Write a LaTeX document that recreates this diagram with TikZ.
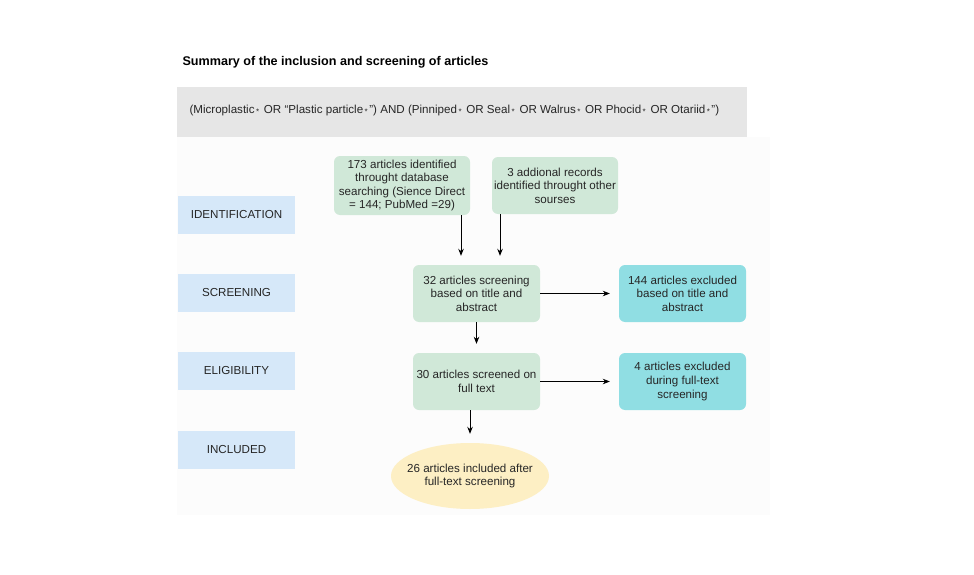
\documentclass[tikz,border=0pt]{standalone}
\usepackage{fontspec}
\setmainfont{Liberation Sans}
\usetikzlibrary{arrows.meta,positioning,shapes.geometric}
\definecolor{stage blue}{RGB}{214,232,249}
\definecolor{record green}{RGB}{208,232,216}
\definecolor{excluded cyan}{RGB}{144,222,227}
\definecolor{included yellow}{RGB}{253,239,196}
\definecolor{query grey}{RGB}{230,230,230}
\definecolor{panel grey}{RGB}{252,252,252}
\tikzset{
    box text/.style={font=\fontsize{11.6}{13.6}\selectfont,text=black!85,align=center},
    stage/.style={box text,fill=stage blue,minimum width=117pt,minimum height=38pt,inner sep=0pt},
    record/.style={box text,fill=record green,rounded corners=6pt,minimum width=127pt,minimum height=57pt,inner sep=1pt},
    excluded/.style={box text,fill=excluded cyan,rounded corners=6pt,minimum width=127pt,minimum height=57pt,inner sep=1pt},
    included/.style={box text,ellipse,fill=included yellow,minimum width=158pt,minimum height=66pt,inner xsep=-12pt,inner ysep=0pt},
    arr/.style={->,>={Stealth[length=7pt,width=5.5pt]},line width=0.9pt,shorten >=9pt},
}
\newcommand{\wc}{\kern1.5pt\raisebox{-.1ex}{\footnotesize*}\kern1.5pt}
\begin{document}
\begin{tikzpicture}[x=1pt,y=-1pt]
    \useasboundingbox[fill=white] (0,0) rectangle (974,575);
    \fill[panel grey] (177,137) rectangle (770,515);
    \node[anchor=west,font=\fontsize{12.6}{14}\selectfont\bfseries] (title) at (179,62) {Summary of the inclusion and screening of articles};
    \fill[query grey] (177,87) rectangle (747,137);
    \node[anchor=west,box text] (query) at (186,111) {(Microplastic\wc{} OR “Plastic particle\wc”) AND (Pinniped\wc{} OR Seal\wc{} OR Walrus\wc{} OR Phocid\wc{} OR Otariid\wc”)};
    % stages
    \node[stage] (identification) at (236.5,215) {IDENTIFICATION};
    \node[stage] (screening) at (236.5,293) {SCREENING};
    \node[stage] (eligibility) at (236.5,371) {ELIGIBILITY};
    \node[stage] (includedlabel) at (236.5,450) {INCLUDED};
    % records
    \node[record,minimum width=136pt,minimum height=59pt] (database) at (402,185.5) {173 articles identified\\ throught database\\ searching (Sience Direct\\ = 144; PubMed =29)};
    \node[record,minimum width=126pt] (other) at (555,185.5) {3 addional records\\ identified throught other\\ sourses};
    \node[record] (titlescreen) at (476.5,293.5) {32 articles screening\\ based on title and\\ abstract};
    \node[record] (fulltext) at (476.5,381.5) {30 articles screened on\\ full text};
    \node[excluded] (excl1) at (682.5,293.5) {144 articles excluded\\ based on title and\\ abstract};
    \node[excluded] (excl2) at (682.5,381.5) {4 articles excluded\\ during full-text\\ screening};
    \node[included] (final) at (470,476) {26 articles included after\\ full-text screening};
    % arrows
    \coordinate (a1) at (461,0);
    \coordinate (a2) at (500,0);
    \coordinate (a3) at (470,0);
    \draw[arr] (database.south -| a1) -- (titlescreen.north -| a1);
    \draw[arr] (other.south -| a2) -- (titlescreen.north -| a2);
    \draw[arr] (titlescreen.east) -- (excl1.west);
    \draw[arr] (titlescreen.south) -- (fulltext.north);
    \draw[arr] (fulltext.east) -- (excl2.west);
    \draw[arr] (fulltext.south -| a3) -- (final.north -| a3);
\end{tikzpicture}
\end{document}
